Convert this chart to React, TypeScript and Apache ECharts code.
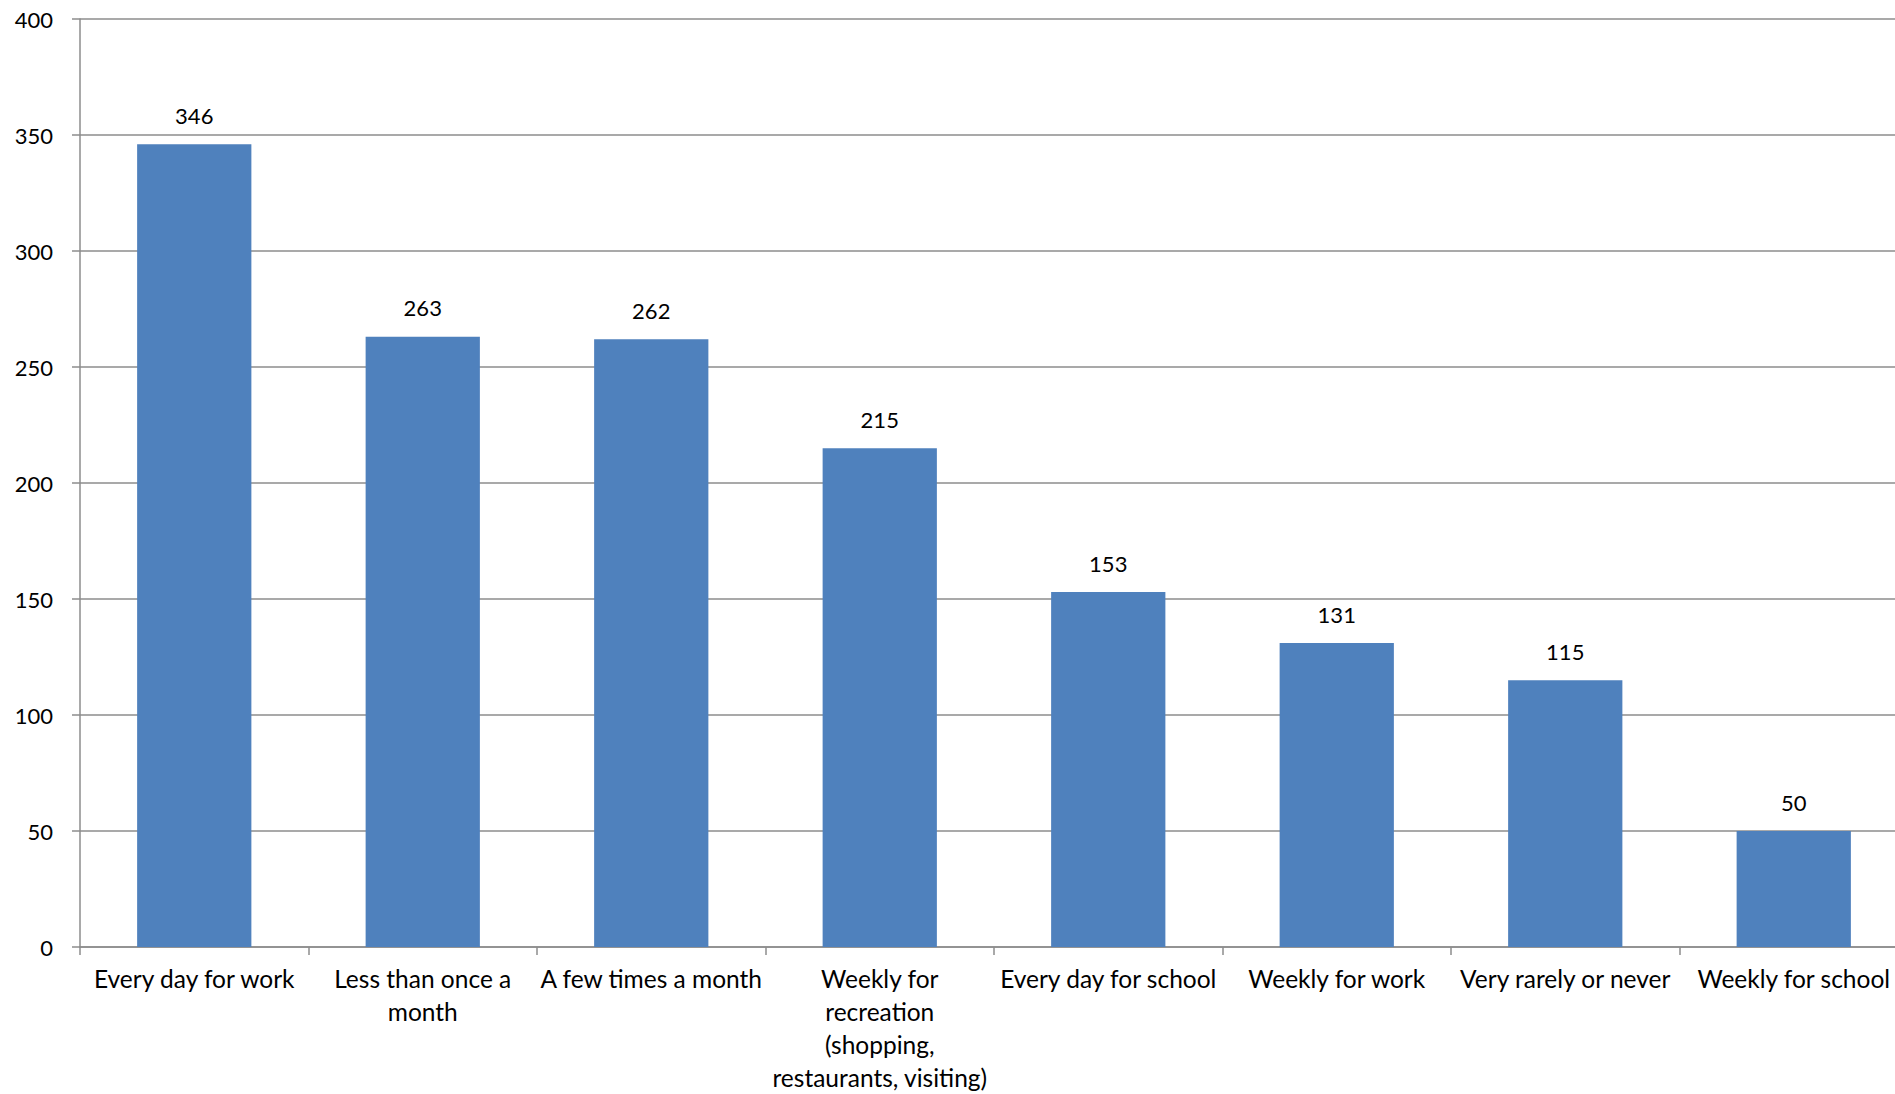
import React, { useEffect, useRef } from "react";
import * as echarts from "echarts";

const categories = [
  "Every day for work",
  "Less than once a\nmonth",
  "A few times a month",
  "Weekly for\nrecreation\n(shopping,\nrestaurants, visiting)",
  "Every day for school",
  "Weekly for work",
  "Very rarely or never",
  "Weekly for school",
];
const values = [346, 263, 262, 215, 153, 131, 115, 50];
const yMin = 0;
const yMax = 400;
const yInterval = 50;

const FONT = "Lato, 'Open Sans', sans-serif";

export default function App() {
  const ref = useRef<HTMLDivElement>(null);
  useEffect(() => {
    if (!ref.current) return;
    const chart = echarts.init(ref.current, undefined, { renderer: "svg" });
    chart.setOption({
      animation: false,
      backgroundColor: "#ffffff",
      grid: {
        left: 80,
        top: 19,
        width: 1828,
        bottom: 147,
        containLabel: false,
        outerBoundsMode: "none",
      },
      xAxis: {
        type: "category",
        data: categories,
        axisLine: { show: true, lineStyle: { color: "#8c8c8c", width: 1.5 } },
        axisTick: { show: true, length: 8, lineStyle: { color: "#8c8c8c", width: 1.5 } },
        axisLabel: {
          interval: 0,
          margin: 15,
          color: "#000000",
          fontFamily: FONT,
          fontSize: 24.5,
          lineHeight: 33,
          hideOverlap: false,
        },
        splitLine: { show: false },
      },
      yAxis: {
        type: "value",
        min: yMin,
        max: yMax,
        interval: yInterval,
        axisLine: { show: true, lineStyle: { color: "#8c8c8c", width: 1.5 } },
        axisTick: { show: true, length: 8, lineStyle: { color: "#8c8c8c", width: 1.5 } },
        axisLabel: {
          margin: 27,
          color: "#000000",
          fontFamily: FONT,
          fontSize: 22,
        },
        splitLine: { show: true, lineStyle: { color: "#8c8c8c", width: 1.5 } },
      },
      series: [
        {
          type: "bar",
          data: values,
          barWidth: "50%",
          itemStyle: { color: "#4f81bd" },
          label: {
            show: true,
            position: "top",
            distance: 18,
            color: "#000000",
            fontFamily: FONT,
            fontSize: 22,
          },
        },
      ],
    });
    return () => chart.dispose();
  }, []);
  return (
    <div
      ref={ref}
      style={{ position: "fixed", left: 0, top: 0, width: 1895, height: 1094 }}
    />
  );
}
